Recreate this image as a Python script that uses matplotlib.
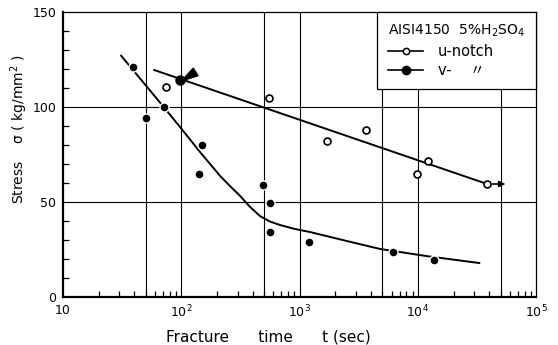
import numpy as np
import matplotlib.pyplot as plt
from matplotlib.lines import Line2D
from matplotlib.ticker import FixedLocator, LogLocator, NullFormatter

# u-notch specimens (open circles)
u_time = [74, 552, 1710, 3650, 9860, 12200, 38500]
u_stress = [110.5, 105, 82, 88, 65, 71.5, 59.5]
# u-notch fitted line
u_line_time = [59, 38500]
u_line_stress = [119.5, 59.5]

# v-notch specimens (filled circles)
v_time = [39, 50, 71, 141, 150, 491, 563, 560, 1200, 6170, 13700]
v_stress = [121, 94, 100, 65, 80, 59, 49.5, 34, 29, 23.7, 19.5]
# v-notch fitted curve
v_curve_time = [31, 71, 97.5, 144, 213, 258, 314, 381, 463, 563, 684, 900, 1228,
                2500, 4790, 12000, 33000]
v_curve_stress = [127, 100, 89.5, 76.3, 63.7, 58.4, 53.2, 47.4, 42.6, 39.7, 37.9, 35.9, 34.2,
                  29.5, 25.3, 21.5, 17.9]

# run-out points
v_runout = (98, 114)
u_runout = (38500, 59.5)

xtick_pos = [10, 100, 1000, 10000, 100000]
xtick_labels = ['10', '$10^2$', '$10^3$', '$10^4$', '$10^5$']
ytick_pos = [0, 50, 100, 150]
xgrid = [50, 100, 500, 1000, 5000, 10000, 50000]
ygrid = [50, 100]

plt.rcParams['font.family'] = ['DejaVu Sans', 'Noto Sans CJK JP']
fig = plt.figure(figsize=(5.58, 3.45), dpi=100)
ax = fig.add_axes([0.113, 0.139, 0.848, 0.826])

ax.set_xscale('log')
ax.set_xlim(10, 1e5)
ax.set_ylim(0, 150)

for g in xgrid:
    ax.axvline(g, color='black', lw=0.8, zorder=1)
for g in ygrid:
    ax.axhline(g, color='black', lw=0.8, zorder=1)

# fitted lines
ax.plot(u_line_time, u_line_stress, color='black', lw=1.4, zorder=2)
ax.plot(v_curve_time, v_curve_stress, color='black', lw=1.4, zorder=2,
        solid_joinstyle='round')

# data points
ax.plot(u_time, u_stress, 'o', ms=5, mfc='white', mec='black', mew=1.2, zorder=3)
ax.plot(v_time, v_stress, 'o', ms=6.5, mfc='black', mec='white', mew=1.0, zorder=3)

# run-out markers
ax.plot(*v_runout, 'o', ms=6.5, color='black', zorder=4)
ax.annotate('', xy=(v_runout[0] * 0.98, v_runout[1] - 1), xytext=(v_runout[0] * 1.35, v_runout[1] + 4.5),
            arrowprops=dict(arrowstyle='-|>,head_length=1.2,head_width=0.32', color='black',
                            lw=1.0, mutation_scale=10, shrinkA=0, shrinkB=0),
            zorder=4)
ax.annotate('', xy=(58000, u_runout[1]), xytext=(u_runout[0] * 1.05, u_runout[1]),
            arrowprops=dict(arrowstyle='-|>', color='black', lw=1.2, mutation_scale=9),
            zorder=4)

# ticks
ax.xaxis.set_major_locator(FixedLocator(xtick_pos))
ax.set_xticklabels(xtick_labels)
ax.xaxis.set_minor_locator(LogLocator(base=10, subs=np.arange(2, 10)))
ax.xaxis.set_minor_formatter(NullFormatter())
ax.set_yticks(ytick_pos)
ax.set_yticks(np.arange(0, 151, 10), minor=True)
ax.tick_params(which='both', direction='in', top=False, right=False, labelsize=9, color='black')
ax.tick_params(which='major', length=0, pad=5)
ax.tick_params(which='minor', length=4, width=0.9)

for side in ['left', 'bottom']:
    ax.spines[side].set_linewidth(1.6)
for side in ['top', 'right']:
    ax.spines[side].set_linewidth(0.9)

ax.set_xlabel('Fracture      time      t (sec)', fontsize=11)
ax.xaxis.set_label_coords(0.433, -0.115)
ax.set_ylabel('Stress    σ ( kg/mm$^2$ )', fontsize=10)
ax.yaxis.set_label_coords(-0.07, 0.59)

handles = [Line2D([], [], color='black', lw=1.2, marker='o', ms=4.5, mfc='white', mew=1.1),
           Line2D([], [], color='black', lw=1.2, marker='o', ms=6, mfc='black')]
leg = ax.legend(handles, ['u-notch', 'v-    \u3003'], title='AISI4150  5%H$_2$SO$_4$',
                loc='upper right', borderaxespad=0, fancybox=False, framealpha=1,
                edgecolor='black', fontsize=10.5, title_fontsize=10, handlelength=2.4,
                handletextpad=1.0, borderpad=0.75, labelspacing=0.3)
leg._legend_box.align = 'left'
leg.get_frame().set_linewidth(0.9)
leg.set_zorder(5)

plt.savefig('out.png', dpi=100)
